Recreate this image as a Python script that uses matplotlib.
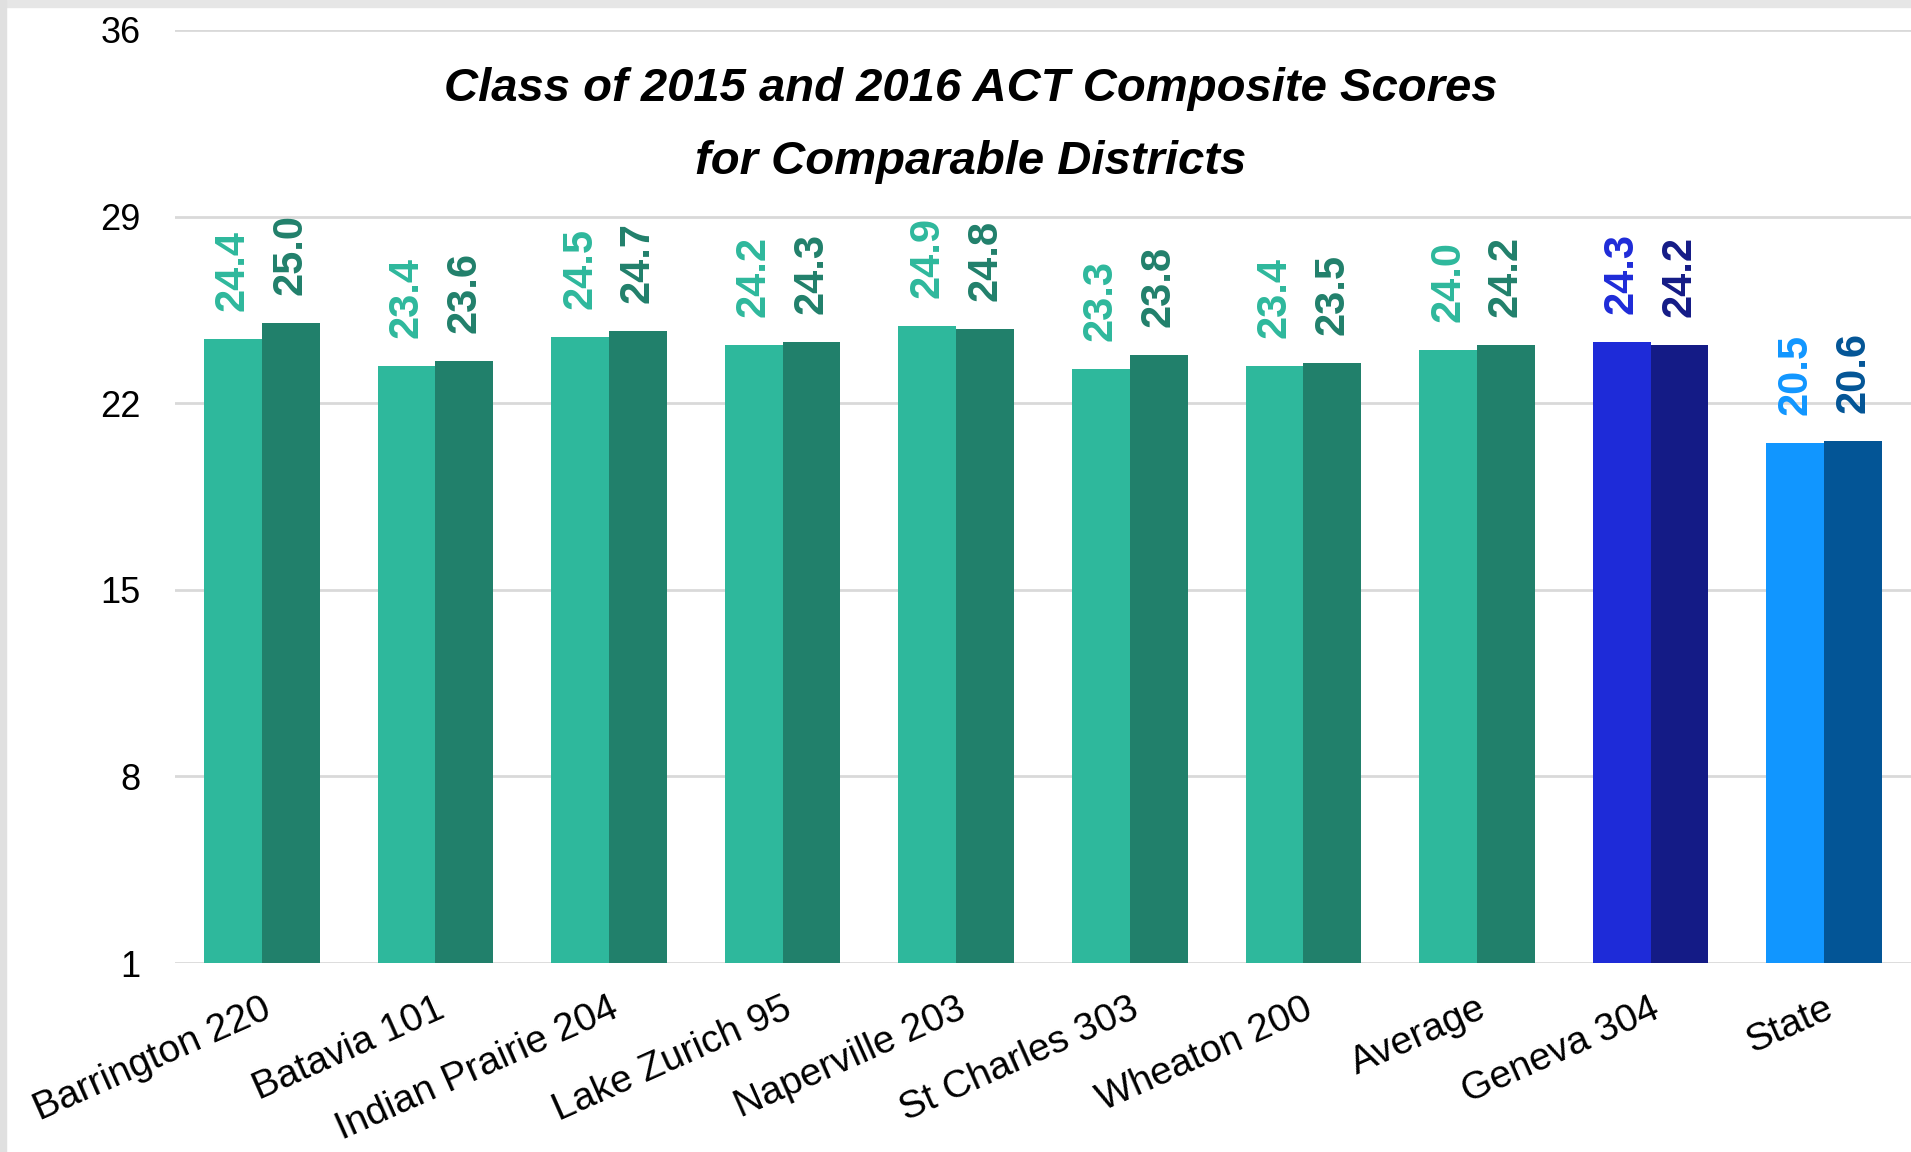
import matplotlib.pyplot as plt
import matplotlib as mpl
from matplotlib.patches import Rectangle
import numpy as np

# chart data
districts = ['Barrington 220', 'Batavia 101', 'Indian Prairie 204', 'Lake Zurich 95',
             'Naperville 203', 'St Charles 303', 'Wheaton 200', 'Average',
             'Geneva 304', 'State']
scores_2015 = [24.4, 23.4, 24.5, 24.2, 24.9, 23.3, 23.4, 24.0, 24.3, 20.5]
scores_2016 = [25.0, 23.6, 24.7, 24.3, 24.8, 23.8, 23.5, 24.2, 24.2, 20.6]
y_ticks = [1, 8, 15, 22, 29, 36]

# colours per group: (2015, 2016)
colors_2015 = ['#2EB89C'] * 8 + ['#1E2BD8', '#1196FF']
colors_2016 = ['#21806B'] * 8 + ['#141B86', '#035596']

sans = ['Liberation Sans', 'DejaVu Sans']

fig = plt.figure(figsize=(19.11, 11.52), dpi=100)
ax = fig.add_axes([0.0916, 0.164, 0.9084, 0.81])

x = np.arange(len(districts))
width = 0.333

bars15 = ax.bar(x - width / 2, scores_2015, width=width, color=colors_2015,
                linewidth=0, zorder=2)
bars16 = ax.bar(x + width / 2, scores_2016, width=width, color=colors_2016,
                linewidth=0, zorder=2)

# value labels above the bars
for bars, vals, cols in [(bars15, scores_2015, colors_2015),
                         (bars16, scores_2016, colors_2016)]:
    for b, v, c in zip(bars, vals, cols):
        ax.annotate('%.1f' % v,
                    xy=(b.get_x() + b.get_width() / 2, v),
                    xytext=(0, 20), textcoords='offset points',
                    rotation=90, ha='center', va='bottom',
                    fontsize=30, fontweight='bold', color=c,
                    family=sans)

ax.set_xlim(-0.5, len(districts) - 0.5)
ax.set_ylim(1, 36)
ax.set_yticks(y_ticks)
ax.set_yticklabels([str(t) for t in y_ticks], fontsize=26, family=sans)
ax.tick_params(axis='y', length=0, pad=25)
ax.tick_params(axis='x', length=0, pad=20)
ax.set_xticks(x)
ax.set_xticklabels(districts, rotation=24, ha='right', va='top',
                   rotation_mode='anchor', fontsize=28, family=sans)
ax.grid(axis='y', color='#D9D9D9', linewidth=2, zorder=0)
for s in ax.spines.values():
    s.set_visible(False)

fig.text(0.508, 0.891,
         'Class of 2015 and 2016 ACT Composite Scores\nfor Comparable Districts',
         ha='center', va='center', fontsize=34, fontweight='bold',
         style='italic', family=sans, linespacing=1.85)

# screenshot frame
fig.patches.append(Rectangle((0, 0.994), 1, 0.006, transform=fig.transFigure,
                             color='#E6E6E6', zorder=0))
fig.patches.append(Rectangle((0, 0), 0.003, 1, transform=fig.transFigure,
                             color='#E0E0E0', zorder=0))

fig.savefig('out.png', dpi=100)
